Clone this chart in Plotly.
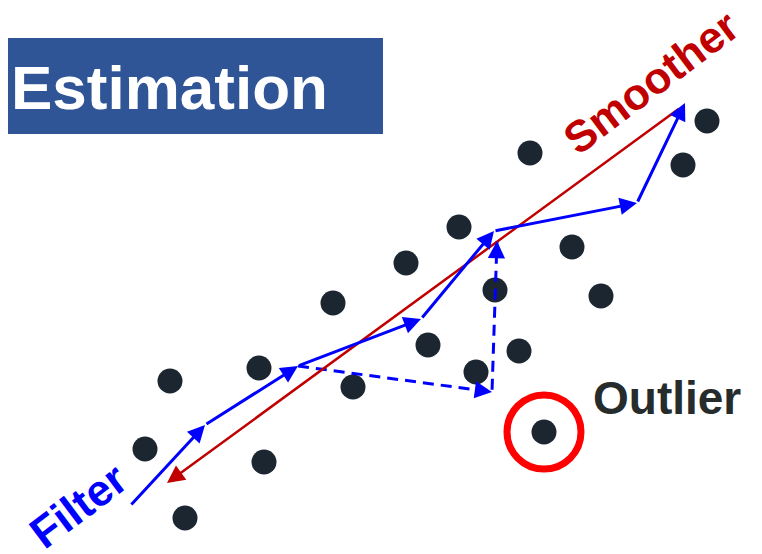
import plotly.graph_objects as go

# --- data (pixel-space coordinates of the diagram) ---
dot_x = [530, 707, 683, 459, 572, 406, 495, 601, 333, 428, 519, 259, 476, 170, 353, 145, 264, 185]
dot_y = [153, 121, 165, 227, 247, 263, 290, 296, 303, 345, 351, 368, 372, 381, 387, 449, 462, 518]

outlier_x = [544]
outlier_y = [432]

filter_x = [130, 205, 298, 421, 494, 637, 685]
filter_y = [506, 425, 366, 319, 231, 203, 103]

dashed_x = [298, 492, 497]
dashed_y = [366, 392, 241]

smoother_x = [680, 167]
smoother_y = [108, 483]

BLUE = "#0000FF"
RED = "#C00000"
DOT = "#1B2631"

# page body has an 8px margin; shift the axis window so data units equal page pixels
OFF = 8
W, H = 762, 554

fig = go.Figure()

# dots
fig.add_trace(go.Scatter(x=dot_x + outlier_x, y=dot_y + outlier_y, mode="markers",
                         marker=dict(size=25, color=DOT), hoverinfo="skip", showlegend=False))

# dashed filter branch
fig.add_trace(go.Scatter(x=dashed_x, y=dashed_y, mode="lines",
                         line=dict(color=BLUE, width=3, dash="11px,7px"),
                         hoverinfo="skip", showlegend=False))

annotations = []
# smoother arrow
annotations.append(dict(x=smoother_x[1], y=smoother_y[1], ax=smoother_x[0], ay=smoother_y[0],
                        xref="x", yref="y", axref="x", ayref="y", text="", showarrow=True,
                        arrowhead=2, arrowsize=1.4, arrowwidth=2.5, arrowcolor=RED, standoff=0))
# filter arrows
for i in range(len(filter_x) - 1):
    annotations.append(dict(x=filter_x[i + 1], y=filter_y[i + 1], ax=filter_x[i], ay=filter_y[i],
                            xref="x", yref="y", axref="x", ayref="y", text="", showarrow=True,
                            arrowhead=2, arrowsize=1.15, arrowwidth=3, arrowcolor=BLUE, standoff=0))
# dashed arrowheads (short stubs so only the head shows)
for i in range(len(dashed_x) - 1):
    dx = dashed_x[i + 1] - dashed_x[i]
    dy = dashed_y[i + 1] - dashed_y[i]
    L = (dx * dx + dy * dy) ** 0.5
    annotations.append(dict(x=dashed_x[i + 1], y=dashed_y[i + 1],
                            ax=dashed_x[i + 1] - dx / L * 14, ay=dashed_y[i + 1] - dy / L * 14,
                            xref="x", yref="y", axref="x", ayref="y", text="", showarrow=True,
                            arrowhead=2, arrowsize=1.15, arrowwidth=3, arrowcolor=BLUE, standoff=0))

FONT = "Liberation Sans, Arial, sans-serif"
annotations += [
    dict(x=9, y=87, xref="x", yref="y", text="Estimation", showarrow=False, xanchor="left",
         yanchor="middle", font=dict(family=FONT, size=62, color="white", weight="bold")),
    dict(x=650, y=82, xref="x", yref="y", text="Smoother", showarrow=False, textangle=-37,
         font=dict(family=FONT, size=44, color=RED, weight="bold")),
    dict(x=78, y=505, xref="x", yref="y", text="Filter", showarrow=False, textangle=-37,
         font=dict(family=FONT, size=44, color=BLUE, weight="bold")),
    dict(x=591, y=398, xref="x", yref="y", text="Outlier", showarrow=False, xanchor="left",
         yanchor="middle", font=dict(family=FONT, size=46, color="#262B2B", weight="bold")),
]

shapes = [
    dict(type="rect", x0=0, x1=383, y0=38, y1=134, xref="x", yref="y",
         fillcolor="#2F5597", line=dict(width=0), layer="below"),
    dict(type="circle", x0=outlier_x[0] - 37, x1=outlier_x[0] + 37,
         y0=outlier_y[0] - 37, y1=outlier_y[0] + 37, xref="x", yref="y",
         line=dict(color="#FF0000", width=7)),
]

fig.update_layout(
    width=W - OFF, height=H - OFF, margin=dict(l=0, r=0, t=0, b=0),
    paper_bgcolor="white", plot_bgcolor="white",
    xaxis=dict(range=[OFF, W], visible=False, fixedrange=True),
    yaxis=dict(range=[H, OFF], visible=False, fixedrange=True),
    annotations=annotations, shapes=shapes, showlegend=False,
)

fig.write_html("out.html")
